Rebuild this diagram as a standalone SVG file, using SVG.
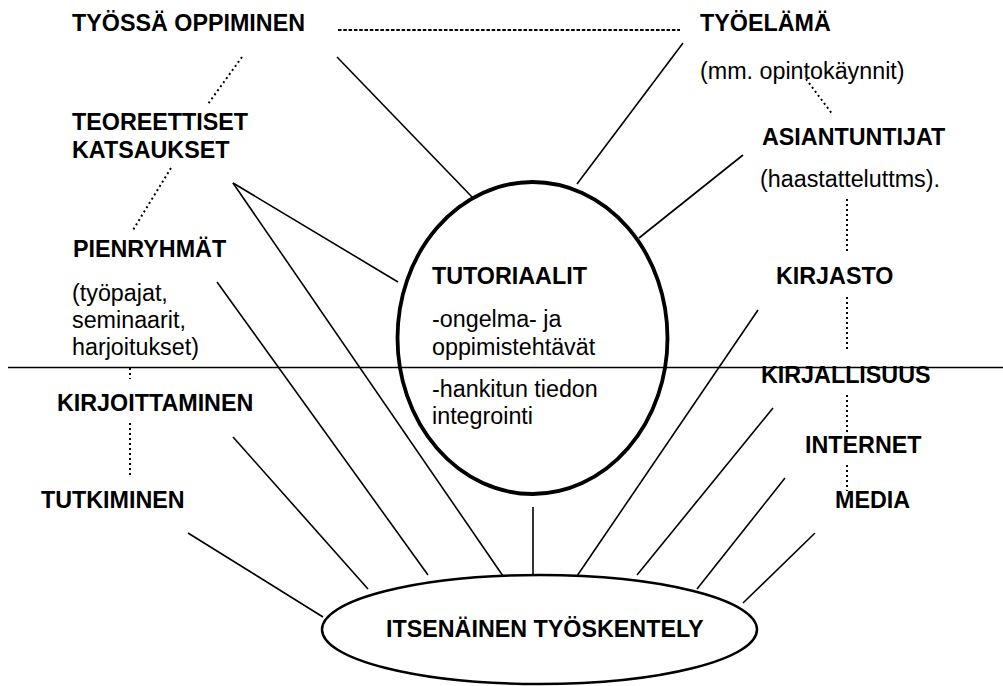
<svg xmlns="http://www.w3.org/2000/svg" width="1003" height="686" viewBox="0 0 1003 686">
<style>
text{font-family:"Liberation Sans",Arial,sans-serif;font-size:23.3px;fill:#000}
.b{font-weight:bold}
.ln{stroke:#000;stroke-width:1.6;fill:none}
.dt{stroke:#000;stroke-width:2.2;fill:none;stroke-dasharray:3.5 1.8}
.dv{stroke:#000;stroke-width:2;fill:none;stroke-dasharray:2 3}
</style>
<rect width="1003" height="686" fill="#fff"/>
<g id="connectors">
<line class="ln" x1="8" y1="367.5" x2="1003" y2="367.5"/>
<line class="dt" x1="338" y1="30" x2="680" y2="30"/>
<line class="dv" x1="242" y1="57" x2="208" y2="104"/>
<line class="dv" x1="171" y1="168" x2="133" y2="230"/>
<line class="dv" x1="806" y1="79" x2="833" y2="115"/>
<line class="dv" x1="130" y1="368" x2="130" y2="379"/>
<line class="dv" x1="130" y1="423" x2="130" y2="478"/>
<line class="dv" x1="847" y1="199" x2="847" y2="252"/>
<line class="dv" x1="847" y1="297" x2="847" y2="351"/>
<line class="dv" x1="847" y1="395" x2="847" y2="434"/>
<line class="dv" x1="847" y1="465" x2="847" y2="491"/>
<line class="ln" x1="337" y1="57" x2="473" y2="198"/>
<line class="ln" x1="683" y1="43" x2="577" y2="184"/>
<line class="ln" x1="743" y1="155" x2="639" y2="238"/>
<line class="ln" x1="233" y1="183" x2="398" y2="282"/>
<line class="ln" x1="233" y1="183" x2="503" y2="576"/>
<line class="ln" x1="217" y1="282" x2="428" y2="575"/>
<line class="ln" x1="233" y1="437" x2="368" y2="589"/>
<line class="ln" x1="188" y1="533" x2="323" y2="617"/>
<line class="ln" x1="533" y1="507" x2="533" y2="575"/>
<line class="ln" x1="758" y1="310" x2="577" y2="576"/>
<line class="ln" x1="773" y1="408" x2="637" y2="575"/>
<line class="ln" x1="785" y1="478" x2="697" y2="589"/>
<line class="ln" x1="815" y1="533" x2="743" y2="603"/>
</g>
<g id="tutoriaalit">
<ellipse cx="532.5" cy="338" rx="135" ry="156" fill="none" stroke="#000" stroke-width="3.8"/>
<text class="b" x="432" y="284">TUTORIAALIT</text>
<text x="432" y="327">-ongelma- ja</text>
<text x="432" y="355">oppimistehtävät</text>
<text x="432" y="397">-hankitun tiedon</text>
<text x="432" y="424">integrointi</text>
</g>
<g id="itsenainen">
<ellipse cx="539.5" cy="629.5" rx="217.5" ry="54.5" fill="#fff" stroke="#000" stroke-width="2.5"/>
<text class="b" x="386" y="637">ITSENÄINEN TYÖSKENTELY</text>
</g>
<g id="tyossa"><text class="b" x="72" y="31">TYÖSSÄ OPPIMINEN</text></g>
<g id="teoreettiset"><text class="b" x="72" y="130">TEOREETTISET</text><text class="b" x="72" y="158">KATSAUKSET</text></g>
<g id="pienryhmat"><text class="b" x="73" y="257">PIENRYHMÄT</text><text x="72" y="301">(työpajat,</text><text x="72" y="328">seminaarit,</text><text x="72" y="355">harjoitukset)</text></g>
<g id="kirjoittaminen"><text class="b" x="57" y="411">KIRJOITTAMINEN</text></g>
<g id="tutkiminen"><text class="b" x="41" y="508">TUTKIMINEN</text></g>
<g id="tyoelama"><text class="b" x="700" y="31">TYÖELÄMÄ</text><text x="700" y="79">(mm. opintokäynnit)</text></g>
<g id="asiantuntijat"><text class="b" x="762" y="145">ASIANTUNTIJAT</text><text x="760" y="187">(haastatteluttms).</text></g>
<g id="kirjasto"><text class="b" x="776" y="284">KIRJASTO</text></g>
<g id="kirjallisuus"><text class="b" x="761" y="383">KIRJALLISUUS</text></g>
<g id="internet"><text class="b" x="805" y="453">INTERNET</text></g>
<g id="media"><text class="b" x="835" y="508">MEDIA</text></g>
</svg>
